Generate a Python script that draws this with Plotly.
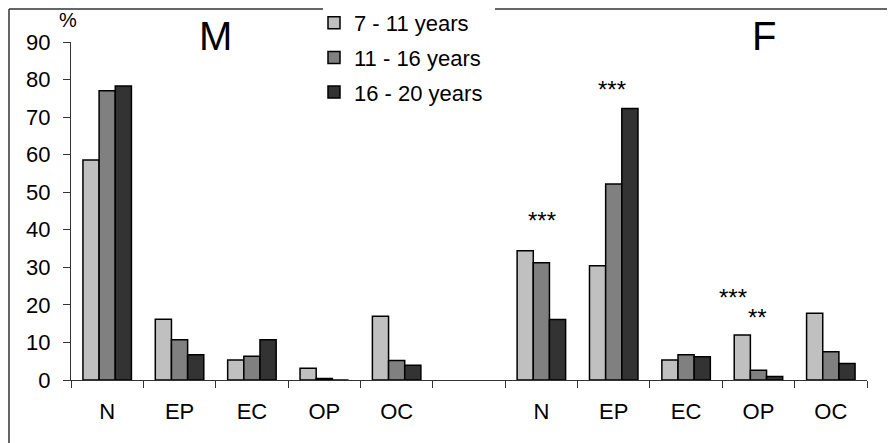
import plotly.graph_objects as go

# ---- data ----
categories = ["M-N", "M-EP", "M-EC", "M-OP", "M-OC", "gap",
              "F-N", "F-EP", "F-EC", "F-OP", "F-OC"]
tick_labels = ["N", "EP", "EC", "OP", "OC", "",
               "N", "EP", "EC", "OP", "OC"]
series_names = ["7 - 11 years", "11 - 16 years", "16 - 20 years"]
age_7_11 = [58.6, 16.2, 5.3, 3.1, 17.0, None, 34.4, 30.4, 5.3, 12.0, 17.8]
age_11_16 = [77.0, 10.7, 6.3, 0.4, 5.2, None, 31.2, 52.2, 6.7, 2.6, 7.5]
age_16_20 = [78.3, 6.7, 10.7, 0.0, 3.9, None, 16.1, 72.3, 6.2, 0.9, 4.4]
colors = ["#c0c0c0", "#808080", "#333333"]

sig_cats = ["F-N", "F-EP", "F-OP", "F-OP"]
sig_text = ["***", "***", "***", "**"]
sig_y = [42.6, 77.3, 22.0, 16.7]
sig_shift = [1, -2, -25, -1]

W, H = 895, 443
OFF = 8  # page body margin
# plot area in page pixels: x 71..867, y 42..380
L = 71 - OFF
R = W - (867 - OFF)
T = 42 - OFF
B = H - (380 - OFF)

fig = go.Figure()
for name, vals, c in zip(series_names, [age_7_11, age_11_16, age_16_20], colors):
    fig.add_trace(go.Bar(
        x=categories, y=vals, name=name, legendgroup=name,
        marker=dict(color=c, line=dict(color="#000000", width=1.5)),
    ))

pw, ph = W - L - R, H - T - B
def px(xp):  # page pixel -> paper
    return (xp - OFF - L) / pw
def py(yp):
    return (H - B - (yp - OFF)) / ph

fig.update_layout(
    width=W, height=H,
    margin=dict(l=L, r=R, t=T, b=B, autoexpand=False),
    paper_bgcolor="white", plot_bgcolor="white",
    barmode="group", bargap=0.33, bargroupgap=0,
    font=dict(family="Liberation Sans, Arial, sans-serif", color="#000000", size=22),
    showlegend=True,
    legend=dict(
        x=px(314), y=py(2),
        xanchor="left", yanchor="top",
        bgcolor="rgba(0,0,0,0)", borderwidth=0,
        font=dict(size=22), tracegroupgap=3,
        itemwidth=30,
    ),
    xaxis=dict(
        type="category", categoryorder="array", categoryarray=categories,
        tickvals=categories, ticktext=tick_labels,
        tickson="boundaries", ticks="outside", ticklen=7, tickcolor="#333333",
        showline=True, linecolor="#333333", linewidth=1,
        showgrid=False, zeroline=False, range=[-0.5, 10.5],
        tickfont=dict(size=22), ticklabelstandoff=12,
    ),
    yaxis=dict(
        range=[0, 90], tickvals=[0, 10, 20, 30, 40, 50, 60, 70, 80, 90],
        ticks="outside", ticklen=7, tickcolor="#333333",
        showline=True, linecolor="#333333", linewidth=1,
        showgrid=False, zeroline=False, tickfont=dict(size=22),
        ticklabelstandoff=8,
    ),
)

# outer border (left and top, with the gap under the legend)
border = dict(type="line", xref="paper", yref="paper", line=dict(color="#333333", width=1.5))
fig.add_shape(**border, x0=px(9), x1=px(9), y0=py(9), y1=py(460))
fig.add_shape(**border, x0=px(9), x1=px(323), y0=py(9), y1=py(9))
fig.add_shape(**border, x0=px(495), x1=px(910), y0=py(9), y1=py(9))

# titles
fig.add_annotation(text="M", xref="paper", yref="paper", x=px(215), y=py(36),
                   showarrow=False, font=dict(size=40), xanchor="center", yanchor="middle")
fig.add_annotation(text="F", xref="paper", yref="paper", x=px(764), y=py(36),
                   showarrow=False, font=dict(size=40), xanchor="center", yanchor="middle")
fig.add_annotation(text="%", xref="paper", yref="paper", x=px(68), y=py(20),
                   showarrow=False, font=dict(size=20), xanchor="center", yanchor="middle")

for c, t, yv, sh in zip(sig_cats, sig_text, sig_y, sig_shift):
    fig.add_annotation(text=t, x=c, y=yv, xref="x", yref="y", showarrow=False,
                       xshift=sh, font=dict(size=24), xanchor="center", yanchor="middle")

fig.write_html("out.html")
